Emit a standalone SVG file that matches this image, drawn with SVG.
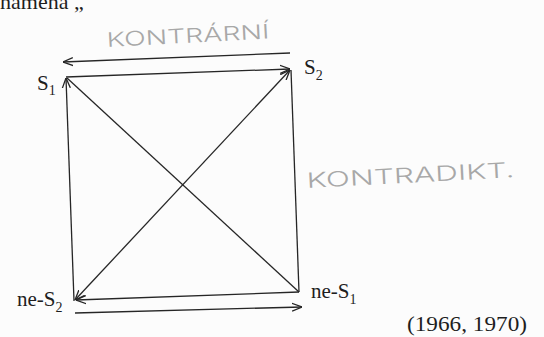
<svg xmlns="http://www.w3.org/2000/svg" width="544" height="337" viewBox="0 0 544 337">
<defs>
<style>
.ln{stroke:#262626;stroke-width:1.3;fill:none}
.lbl{font-family:"Liberation Serif","DejaVu Serif",serif;fill:#1e1e1e}
.hand{font-family:"Inter","DejaVu Sans",sans-serif;fill:#a8a8a8;font-weight:300}
</style>
<marker id="ah" viewBox="0 0 10 10" refX="10" refY="5" markerWidth="10" markerHeight="10" markerUnits="userSpaceOnUse" orient="auto-start-reverse">
<path d="M0,1 L10,5 L0,9" fill="none" stroke="#262626" stroke-width="1.3"/>
</marker>
</defs>
<rect width="544" height="337" fill="#fcfcfc"/>
<text class="lbl" x="0" y="9" font-size="22">hamena „</text>
<g id="connectors">
<line class="ln" x1="290" y1="53" x2="63" y2="62" marker-end="url(#ah)"/>
<line class="ln" x1="75" y1="313" x2="302" y2="307" marker-end="url(#ah)"/>
<line class="ln" x1="66" y1="77" x2="290" y2="69" marker-end="url(#ah)"/>
<line class="ln" x1="74" y1="301" x2="66" y2="78" marker-end="url(#ah)"/>
<line class="ln" x1="291" y1="70" x2="299" y2="292"/>
<line class="ln" x1="299" y1="292" x2="76" y2="300" marker-end="url(#ah)"/>
<line class="ln" x1="67" y1="78" x2="299" y2="292"/>
<line class="ln" x1="75" y1="300" x2="290" y2="70" marker-start="url(#ah)" marker-end="url(#ah)"/>
</g>
<g id="S1"><text class="lbl" x="37" y="90" font-size="21">S<tspan font-size="14" dy="5">1</tspan></text></g>
<g id="S2"><text class="lbl" x="304" y="74" font-size="21">S<tspan font-size="14" dy="6">2</tspan></text></g>
<g id="neS2"><text class="lbl" x="17" y="306" font-size="21">ne-S<tspan font-size="14" dy="6">2</tspan></text></g>
<g id="neS1"><text class="lbl" x="311" y="298" font-size="21">ne-S<tspan font-size="14" dy="6">1</tspan></text></g>
<g id="kontrarni"><text class="hand" x="107" y="47" font-size="20" textLength="163" lengthAdjust="spacingAndGlyphs" transform="rotate(-3 107 47)">KONTRÁRNÍ</text></g>
<g id="kontradikt"><text class="hand" x="307" y="188" font-size="21" textLength="208" lengthAdjust="spacingAndGlyphs" transform="rotate(-3 307 188)">KONTRADIKT.</text></g>
<text class="lbl" x="407" y="331" font-size="22" textLength="120" lengthAdjust="spacingAndGlyphs">(1966, 1970)</text>
</svg>
